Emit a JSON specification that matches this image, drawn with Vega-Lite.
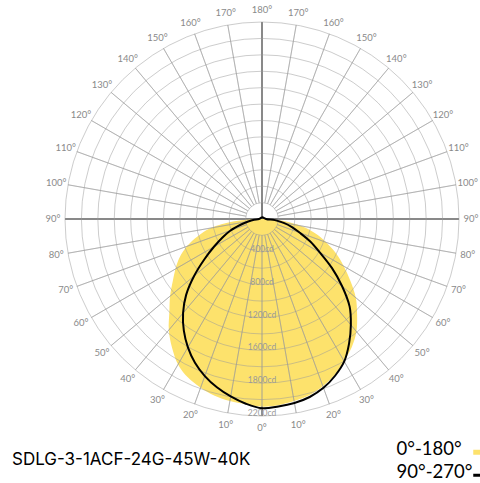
{
  "$schema": "https://vega.github.io/schema/vega-lite/v6.json",
  "width": 394,
  "height": 394,
  "autosize": {"type": "none"},
  "padding": {"left": 65, "top": 22, "right": 21, "bottom": 67},
  "background": "#ffffff",
  "view": {"stroke": null},
  "title": {
    "text": "SDLG-3-1ACF-24G-45W-40K",
    "orient": "bottom",
    "anchor": "start",
    "frame": "group",
    "font": "Inter",
    "fontSize": 17,
    "fontWeight": 400,
    "color": "#000000",
    "dx": -53,
    "offset": -30,
    "baseline": "top"
  },
  "datasets": {
    "yellow": [
      {"gamma": -90, "cd": 61}, {"gamma": -85, "cd": 353}, {"gamma": -80, "cd": 633},
      {"gamma": -75, "cd": 810}, {"gamma": -70, "cd": 974}, {"gamma": -65, "cd": 1108},
      {"gamma": -60, "cd": 1218}, {"gamma": -55, "cd": 1328}, {"gamma": -50, "cd": 1462},
      {"gamma": -45, "cd": 1596}, {"gamma": -40, "cd": 1766}, {"gamma": -35, "cd": 1912},
      {"gamma": -30, "cd": 2046}, {"gamma": -25, "cd": 2132}, {"gamma": -20, "cd": 2187},
      {"gamma": -15, "cd": 2229}, {"gamma": -10, "cd": 2253}, {"gamma": -5, "cd": 2265},
      {"gamma": 0, "cd": 2286}, {"gamma": 5, "cd": 2278}, {"gamma": 10, "cd": 2253},
      {"gamma": 15, "cd": 2223}, {"gamma": 20, "cd": 2168}, {"gamma": 25, "cd": 2095},
      {"gamma": 30, "cd": 1998}, {"gamma": 35, "cd": 1906}, {"gamma": 40, "cd": 1790},
      {"gamma": 45, "cd": 1638}, {"gamma": 50, "cd": 1492}, {"gamma": 55, "cd": 1315},
      {"gamma": 60, "cd": 1151}, {"gamma": 65, "cd": 999}, {"gamma": 70, "cd": 834},
      {"gamma": 75, "cd": 670}, {"gamma": 80, "cd": 487}, {"gamma": 85, "cd": 268},
      {"gamma": 90, "cd": 61}
    ],
    "black": [
      {"gamma": -180, "cd": 25}, {"gamma": -90, "cd": 37}, {"gamma": -85, "cd": 97},
      {"gamma": -80, "cd": 171}, {"gamma": -75, "cd": 270}, {"gamma": -70, "cd": 408},
      {"gamma": -65, "cd": 531}, {"gamma": -60, "cd": 676}, {"gamma": -55, "cd": 859},
      {"gamma": -50, "cd": 1080}, {"gamma": -45, "cd": 1307}, {"gamma": -40, "cd": 1496},
      {"gamma": -35, "cd": 1660}, {"gamma": -30, "cd": 1805}, {"gamma": -25, "cd": 1932},
      {"gamma": -20, "cd": 2036}, {"gamma": -15, "cd": 2123}, {"gamma": -10, "cd": 2195},
      {"gamma": -5, "cd": 2259}, {"gamma": 0, "cd": 2306}, {"gamma": 5, "cd": 2293},
      {"gamma": 10, "cd": 2276}, {"gamma": 15, "cd": 2245}, {"gamma": 20, "cd": 2189},
      {"gamma": 25, "cd": 2107}, {"gamma": 30, "cd": 2004}, {"gamma": 35, "cd": 1850},
      {"gamma": 40, "cd": 1684}, {"gamma": 45, "cd": 1510}, {"gamma": 50, "cd": 1274},
      {"gamma": 55, "cd": 1039}, {"gamma": 60, "cd": 812}, {"gamma": 65, "cd": 649},
      {"gamma": 70, "cd": 490}, {"gamma": 75, "cd": 378}, {"gamma": 80, "cd": 268},
      {"gamma": 85, "cd": 158}, {"gamma": 90, "cd": 49}, {"gamma": 180, "cd": 25}
    ],
    "rings": [
      {"cd": 200}, {"cd": 400}, {"cd": 600}, {"cd": 800}, {"cd": 1000}, {"cd": 1200},
      {"cd": 1400}, {"cd": 1600}, {"cd": 1800}, {"cd": 2000}, {"cd": 2200}, {"cd": 2400}
    ],
    "spokes": [
      {"a": 0}, {"a": 10}, {"a": 20}, {"a": 30}, {"a": 40}, {"a": 50}, {"a": 60}, {"a": 70}, {"a": 80},
      {"a": 90}, {"a": 100}, {"a": 110}, {"a": 120}, {"a": 130}, {"a": 140}, {"a": 150}, {"a": 160}, {"a": 170},
      {"a": 180}, {"a": 190}, {"a": 200}, {"a": 210}, {"a": 220}, {"a": 230}, {"a": 240}, {"a": 250}, {"a": 260},
      {"a": 270}, {"a": 280}, {"a": 290}, {"a": 300}, {"a": 310}, {"a": 320}, {"a": 330}, {"a": 340}, {"a": 350}
    ],
    "axes": [{"a": 0}, {"a": 90}, {"a": 180}, {"a": 270}],
    "anglelabels": [
      {"a": 0, "label": "180°"}, {"a": 10, "label": "170°"}, {"a": 20, "label": "160°"},
      {"a": 30, "label": "150°"}, {"a": 40, "label": "140°"}, {"a": 50, "label": "130°"},
      {"a": 60, "label": "120°"}, {"a": 70, "label": "110°"}, {"a": 80, "label": "100°"},
      {"a": 90, "label": "90°"}, {"a": 100, "label": "80°"}, {"a": 110, "label": "70°"},
      {"a": 120, "label": "60°"}, {"a": 130, "label": "50°"}, {"a": 140, "label": "40°"},
      {"a": 150, "label": "30°"}, {"a": 160, "label": "20°"}, {"a": 170, "label": "10°"},
      {"a": 180, "label": "0°"}, {"a": 190, "label": "10°"}, {"a": 200, "label": "20°"},
      {"a": 210, "label": "30°"}, {"a": 220, "label": "40°"}, {"a": 230, "label": "50°"},
      {"a": 240, "label": "60°"}, {"a": 250, "label": "70°"}, {"a": 260, "label": "80°"},
      {"a": 270, "label": "90°"}, {"a": 280, "label": "100°"}, {"a": 290, "label": "110°"},
      {"a": 300, "label": "120°"}, {"a": 310, "label": "130°"}, {"a": 320, "label": "140°"},
      {"a": 330, "label": "150°"}, {"a": 340, "label": "160°"}, {"a": 350, "label": "170°"}
    ],
    "ringlabels": [
      {"cd": 400, "label": "400cd"}, {"cd": 800, "label": "800cd"}, {"cd": 1200, "label": "1200cd"},
      {"cd": 1600, "label": "1600cd"}, {"cd": 2000, "label": "1800cd"}, {"cd": 2400, "label": "2200cd"}
    ]
  },
  "layer": [
    {
      "data": {"name": "axes"},
      "mark": {"type": "arc", "filled": false, "stroke": "#555555", "strokeWidth": 1},
      "encoding": {
        "theta": {"field": "a", "type": "quantitative", "stack": null, "scale": {"domain": [0, 360], "range": [0, 6.283185307179586]}},
        "theta2": {"field": "a"},
        "radius": {"datum": 2400, "type": "quantitative", "stack": null, "scale": {"type": "linear", "domain": [0, 2400], "range": [0, 197], "zero": true, "nice": false}},
        "radius2": {"datum": 0}
      }
    },
    {
      "data": {"name": "yellow"},
      "transform": [
        {"calculate": "datum.cd * sin(datum.gamma * PI / 180)", "as": "px"},
        {"calculate": "-datum.cd * cos(datum.gamma * PI / 180)", "as": "py"},
        {"calculate": "'0°-180°'", "as": "plane"}
      ],
      "mark": {"type": "line", "filled": true, "interpolate": "catmull-rom", "strokeWidth": 0},
      "encoding": {
        "x": {"field": "px", "type": "quantitative", "axis": null, "scale": {"domain": [-2400, 2400], "nice": false, "zero": false}},
        "y": {"field": "py", "type": "quantitative", "axis": null, "scale": {"domain": [-2400, 2400], "nice": false, "zero": false}},
        "order": {"field": "gamma", "type": "quantitative"},
        "color": {
          "field": "plane", "type": "nominal",
          "scale": {"domain": ["0°-180°", "90°-270°"], "range": ["#fde26c", "#000000"]},
          "legend": {
            "orient": "none", "legendX": 407, "legendY": 421, "title": null, "padding": 0,
            "direction": "vertical",
            "symbolType": "stroke", "symbolSize": 256, "symbolStrokeWidth": 4,
            "labelFont": "Lato", "labelFontSize": 18.5, "labelColor": "#000000",
            "labelOffset": -94, "labelLimit": 200, "rowPadding": 0,
            "encode": {
              "symbols": {"update": {"stroke": {"scale": "color", "field": "value"}, "strokeWidth": {"signal": "datum.value === '0°-180°' ? 5 : 3"}}},
              "labels": {"update": {"dy": {"value": -3}}}
            }
          }
        }
      }
    },
    {
      "data": {"name": "rings"},
      "mark": {"type": "arc", "filled": false, "stroke": "#999999", "strokeOpacity": 0.5, "strokeWidth": 1},
      "encoding": {
        "theta": {"value": 0},
        "theta2": {"value": 6.283185307179586},
        "radius": {"field": "cd", "type": "quantitative", "stack": null}
      }
    },
    {
      "data": {"name": "spokes"},
      "mark": {"type": "arc", "filled": false, "stroke": "#999999", "strokeOpacity": 0.5, "strokeWidth": 1},
      "encoding": {
        "theta": {"field": "a", "type": "quantitative", "stack": null},
        "theta2": {"field": "a"},
        "radius": {"datum": 2400, "type": "quantitative", "stack": null},
        "radius2": {"datum": 200}
      }
    },
    {
      "data": {"name": "black"},
      "transform": [
        {"calculate": "datum.cd * sin(datum.gamma * PI / 180)", "as": "px"},
        {"calculate": "-datum.cd * cos(datum.gamma * PI / 180)", "as": "py"},
        {"calculate": "'90°-270°'", "as": "plane"}
      ],
      "mark": {"type": "line", "interpolate": "catmull-rom", "strokeWidth": 2},
      "encoding": {
        "x": {"field": "px", "type": "quantitative", "axis": null},
        "y": {"field": "py", "type": "quantitative", "axis": null},
        "order": {"field": "gamma", "type": "quantitative"},
        "color": {"field": "plane", "type": "nominal"}
      }
    },
    {
      "data": {"name": "ringlabels"},
      "mark": {"type": "text", "font": "Lato", "fontSize": 8.5, "color": "#9a9a9a", "align": "center", "baseline": "alphabetic"},
      "encoding": {
        "theta": {"datum": 180, "type": "quantitative"},
        "radius": {"field": "cd", "type": "quantitative", "stack": null},
        "text": {"field": "label"}
      }
    },
    {
      "data": {"name": "anglelabels"},
      "mark": {"type": "text", "font": "Lato", "fontSize": 9.5, "color": "#8a8a8a", "align": "center", "baseline": "middle"},
      "encoding": {
        "theta": {"field": "a", "type": "quantitative"},
        "radius": {"datum": 2546, "type": "quantitative"},
        "text": {"field": "label"}
      }
    }
  ]
}
